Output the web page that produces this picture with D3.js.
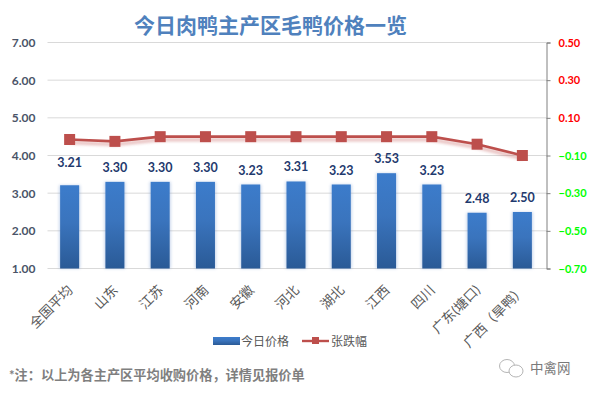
<!DOCTYPE html>
<html><head><meta charset="utf-8">
<script src="https://cdnjs.cloudflare.com/ajax/libs/d3/7.8.5/d3.min.js"></script>
<style>html,body{margin:0;background:#fff}svg{display:block}
text{font-family:Lato,"Noto Sans CJK SC",sans-serif}</style></head><body>
<div id="c"></div>
<script>
const categories=["全国平均","山东","江苏","河南","安徽","河北","湖北","江西","四川","广东(塘口)","广西（旱鸭）"];
const priceValues=[3.21,3.30,3.30,3.30,3.23,3.31,3.23,3.53,3.23,2.48,2.50];
const changeValues=[-0.015,-0.025,0,0,0,0,0,0,0,-0.04,-0.10];
const leftTicks=[1,2,3,4,5,6,7];
const rightTicks=[-0.7,-0.5,-0.3,-0.1,0.1,0.3,0.5];
const titleText="今日肉鸭主产区毛鸭价格一览";
const noteText="*注：以上为各主产区平均收购价格，详情见报价单";
const seriesNames=["今日价格","张跌幅"];
const W=589,H=394,L=47.5,R=546.5,T=42.5,B=268.5;
const svg=d3.select("#c").append("svg").attr("width",W).attr("height",H);
const defs=svg.append("defs");
const g=defs.append("linearGradient").attr("id","bar").attr("x1",0).attr("x2",0).attr("y1",0).attr("y2",1);
g.append("stop").attr("offset","0").attr("stop-color","#3c7ccb");
g.append("stop").attr("offset","0.45").attr("stop-color","#3a74bd");
g.append("stop").attr("offset","1").attr("stop-color","#2a5a96");
const f=defs.append("filter").attr("id","soft").attr("x","-30%").attr("y","-30%").attr("width","160%").attr("height","160%");
f.append("feGaussianBlur").attr("stdDeviation",1.6);
const x=d3.scaleBand().domain(categories).range([47,545]).paddingInner(0.58).paddingOuter(0.29);
const yL=d3.scaleLinear().domain([1,7]).range([B,T]);
const yR=d3.scaleLinear().domain([-0.7,0.5]).range([B,T]);
const cx=c=>x(c)+x.bandwidth()/2;
// grid
svg.append("g").selectAll("line").data(leftTicks).join("line")
 .attr("x1",L).attr("x2",R).attr("y1",d=>yL(d)).attr("y2",d=>yL(d))
 .attr("stroke","#d9d9d9").attr("stroke-width",1);
// left axis labels
const axL=svg.append("g").attr("transform",`translate(${L},0)`)
 .call(d3.axisLeft(yL).tickValues(leftTicks).tickFormat(d3.format(".2f")).tickSize(0).tickPadding(12));
axL.select(".domain").remove();
axL.selectAll("text").attr("font-family","Lato,sans-serif").attr("font-size",12).attr("font-weight",700).attr("fill","#4a5468");
// right axis
const axR=svg.append("g").attr("transform",`translate(${R},0)`)
 .call(d3.axisRight(yR).tickValues(rightTicks).tickFormat(d3.format(".2f")).tickSize(4).tickPadding(8));
axR.select(".domain").attr("stroke","#808080").attr("stroke-width",1);
axR.selectAll("line").attr("stroke","#808080");
axR.selectAll("text").attr("font-family","Lato,sans-serif").attr("font-size",11).attr("font-weight",700)
 .attr("fill",d=>d>0?"#ff0000":"#00ff00");
// bars
svg.append("g").attr("filter","url(#soft)").attr("opacity",.35).selectAll("rect").data(categories).join("rect")
 .attr("x",d=>x(d)-1).attr("width",x.bandwidth()+2)
 .attr("y",(d,i)=>yL(priceValues[i])).attr("height",(d,i)=>B-yL(priceValues[i])).attr("fill","#5b86c8");
svg.append("g").selectAll("rect").data(categories).join("rect")
 .attr("x",d=>x(d)).attr("width",x.bandwidth())
 .attr("y",(d,i)=>yL(priceValues[i])).attr("height",(d,i)=>B-yL(priceValues[i])).attr("fill","url(#bar)");
// value labels
svg.append("g").selectAll("text").data(categories).join("text")
 .attr("x",cx).attr("y",(d,i)=>yL(priceValues[i])-(i===0?18:10)).attr("text-anchor","middle")
 .attr("font-family","Lato,sans-serif").attr("font-size",12.5).attr("font-weight",700).attr("fill","#1f3a6e")
 .text((d,i)=>priceValues[i].toFixed(2));
// line
const line=d3.line().x(d=>cx(d)).y(d=>yR(changeValues[categories.indexOf(d)]));
svg.append("path").datum(categories).attr("d",line).attr("fill","none").attr("stroke","#c0504d").attr("stroke-width",3)
 .attr("opacity",.4).attr("filter","url(#soft)").attr("transform","translate(0,3)");
svg.append("path").datum(categories).attr("d",line).attr("fill","none").attr("stroke","#bd4f4c").attr("stroke-width",2.6);
svg.append("g").selectAll("rect").data(categories).join("rect")
 .attr("x",d=>cx(d)-5.5).attr("y",(d,i)=>yR(changeValues[i])-5.5).attr("width",11).attr("height",11).attr("fill","#bd4f4c");
// category labels
svg.append("g").selectAll("text").data(categories).join("text")
 .attr("transform",d=>`translate(${cx(d)+4},${291}) rotate(-45)`)
 .attr("text-anchor","end").attr("font-family","'Noto Sans CJK SC',sans-serif").attr("font-size",13.5).attr("fill","#595959")
 .text(d=>d);
// title
svg.append("text").attr("x",270.5).attr("y",32.5).attr("text-anchor","middle")
 .attr("font-family","'Noto Sans CJK SC',sans-serif").attr("font-size",21).attr("font-weight",700)
 .attr("fill","#4f81bd").text(titleText);
// legend
const lg=svg.append("g");
lg.append("rect").attr("x",213).attr("y",337).attr("width",27).attr("height",8).attr("fill","url(#bar)");
lg.append("text").attr("x",241).attr("y",346).attr("font-family","'Noto Sans CJK SC',sans-serif").attr("font-size",12).attr("fill","#595959").text(seriesNames[0]);
lg.append("line").attr("x1",302).attr("x2",329).attr("y1",341).attr("y2",341).attr("stroke","#bd4f4c").attr("stroke-width",2.4);
lg.append("rect").attr("x",312).attr("y",337).attr("width",7).attr("height",7).attr("fill","#bd4f4c");
lg.append("text").attr("x",331).attr("y",346).attr("font-family","'Noto Sans CJK SC',sans-serif").attr("font-size",12).attr("fill","#595959").text(seriesNames[1]);
// note
svg.append("text").attr("x",9).attr("y",380).attr("font-family","'Noto Sans CJK SC',sans-serif").attr("font-size",13.2).attr("font-weight",700).attr("fill","#7f7f7f").text(noteText);
// watermark
const wm=svg.append("g").attr("fill","#fff").attr("stroke","#b5b5b5").attr("stroke-width",1);
wm.append("ellipse").attr("cx",507).attr("cy",366).attr("rx",7.5).attr("ry",6.5);
wm.append("ellipse").attr("cx",516).attr("cy",371).attr("rx",7).attr("ry",6);
svg.append("text").attr("x",530).attr("y",373).attr("font-family","'Noto Sans CJK SC',sans-serif").attr("font-size",13.5).attr("fill","#7a7a7a").text("中禽网");
</script></body></html>
